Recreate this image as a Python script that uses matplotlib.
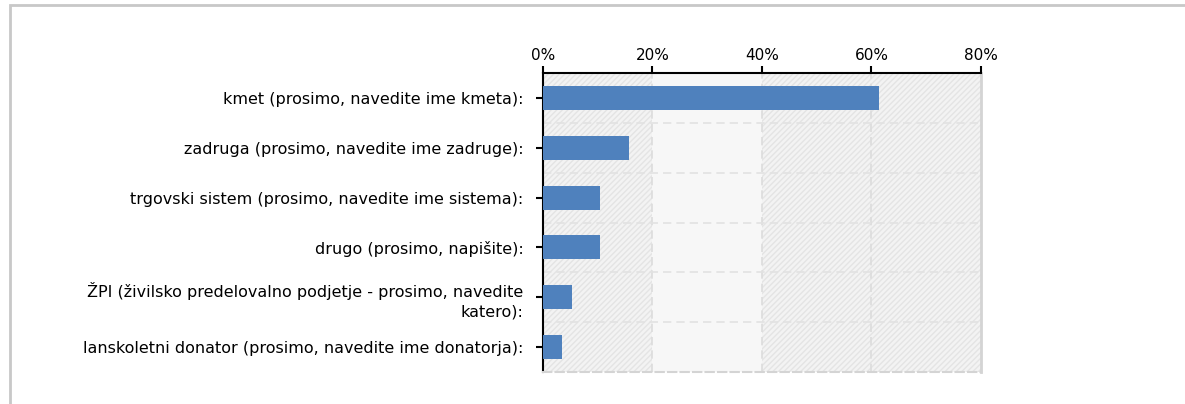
import numpy as np
import matplotlib
matplotlib.use("Agg")
import matplotlib.pyplot as plt
from matplotlib.patches import Rectangle

# podatki
kategorije = [
    "kmet (prosimo, navedite ime kmeta):",
    "zadruga (prosimo, navedite ime zadruge):",
    "trgovski sistem (prosimo, navedite ime sistema):",
    "drugo (prosimo, napišite):",
    "ŽPI (živilsko predelovalno podjetje - prosimo, navedite\nkatero):",
    "lanskoletni donator (prosimo, navedite ime donatorja):",
]
odstotki = [61.4, 15.8, 10.5, 10.5, 5.3, 3.5]
x_ticks = [0, 20, 40, 60, 80]
x_labels = ["0%", "20%", "40%", "60%", "80%"]

plt.rcParams['font.family'] = ['DejaVu Sans']

fig = plt.figure(figsize=(11.85, 4.04), dpi=100)
ax = fig.add_axes([0.4582, 0.0792, 0.3696, 0.7401])

# okvir okoli grafa
fig.patches.append(Rectangle((0.0084, -0.1), 1.2, 1.0876, transform=fig.transFigure,
                             fill=False, edgecolor='#c8c8c8', linewidth=2))

y = np.arange(len(kategorije))
ax.set_xlim(0, 80)
ax.set_ylim(len(kategorije) - 0.5, -0.5)

# ozadje s črtkanimi stolpci
ax.set_facecolor('#f7f7f7')
for i, x0 in enumerate(x_ticks[:-1]):
    if i == 1:
        continue
    ax.add_patch(Rectangle((x0, -0.5), 20, len(kategorije), facecolor='#f3f3f3',
                           edgecolor='#e4e4e4', hatch='//////', linewidth=0, zorder=0))

for xv in x_ticks[1:-1]:
    ax.axvline(xv, color='#dcdcdc', linestyle=(0, (5, 3)), linewidth=1.2, zorder=1)
for yv in np.arange(0.5, len(kategorije) - 0.5, 1):
    ax.axhline(yv, color='#e2e2e2', linestyle=(0, (5, 3)), linewidth=1.2, zorder=1)

ax.barh(y, odstotki, height=0.48, color='#4f81bd', zorder=3)

ax.xaxis.tick_top()
ax.set_xticks(x_ticks)
ax.set_xticklabels(x_labels, fontsize=11)
ax.set_yticks(y)
ax.set_yticklabels(kategorije, fontsize=11.5, linespacing=1.35)
ax.tick_params(axis='x', length=5, width=1.5, color='black', pad=2)
ax.tick_params(axis='y', length=5, width=1.5, color='black', pad=9)

ax.spines['top'].set_color('black')
ax.spines['top'].set_linewidth(1.5)
ax.spines['left'].set_color('black')
ax.spines['left'].set_linewidth(1.5)
ax.spines['right'].set_color('#d4d4d4')
ax.spines['right'].set_linewidth(2)
ax.spines['bottom'].set_color('#d4d4d4')
ax.spines['bottom'].set_linestyle((0, (4, 2)))
ax.spines['bottom'].set_linewidth(1.5)

fig.savefig("out.png", dpi=100)
